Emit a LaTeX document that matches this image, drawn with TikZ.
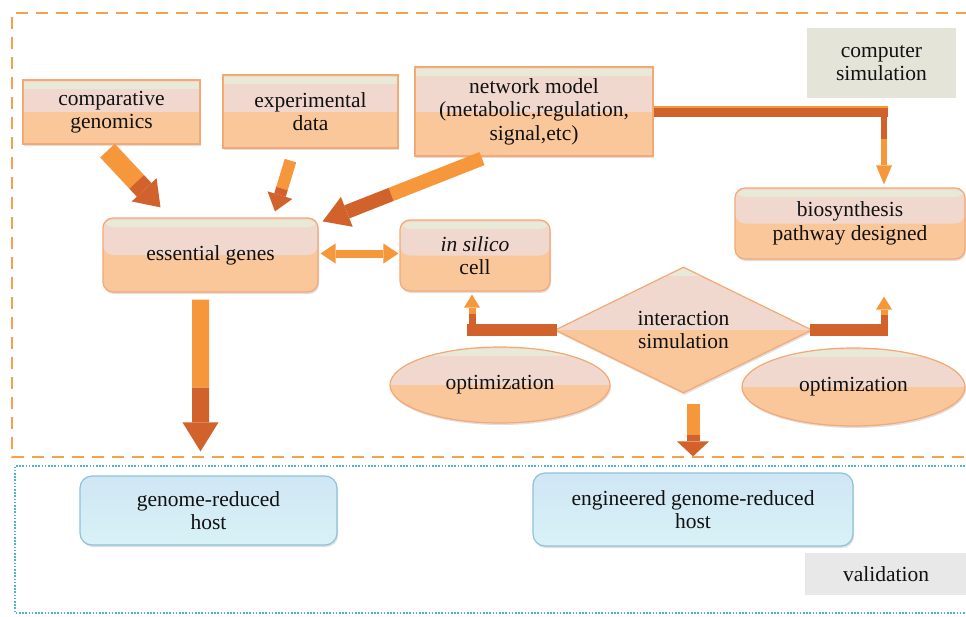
\documentclass[tikz,border=0pt]{standalone}
\usepackage{fontspec}
\setmainfont{Liberation Serif}
\usetikzlibrary{arrows.meta,shapes.geometric,calc,shadows}
\definecolor{boxtop}{HTML}{F0D8CF}
\definecolor{boxbot}{HTML}{FAC79A}
\definecolor{boxstrip}{HTML}{E9E9D8}
\definecolor{boxborder}{HTML}{F4A873}
\definecolor{arrO}{HTML}{F5973A}
\definecolor{arrD}{HTML}{D2622B}
\definecolor{bluetop}{HTML}{D0E6F5}
\definecolor{bluebot}{HTML}{D8F2F6}
\definecolor{blueborder}{HTML}{8FC2DA}
\definecolor{csgray}{HTML}{E4E4D9}
\definecolor{valgray}{HTML}{E8E8E8}
\definecolor{dashorange}{HTML}{F5A24E}
\definecolor{dotblue}{HTML}{4FB3D6}
\definecolor{txt}{HTML}{111111}
% #1 start, #2 tip, #3 shaft width, #4 head half width, #5 head length,
% #6 fraction where colour changes, #7 first colour, #8 second colour (head)
\newcommand\BlkArrow[8]{%
  \coordinate (hb) at ($(#2)!#5!(#1)$);
  \coordinate (md) at ($(#1)!#6!(#2)$);
  \draw[#7, line width=#3] (#1) -- (md);
  \draw[#8, line width=#3] (md) -- (hb);
  \fill[#8] ($(hb)!#4!90:(#2)$) -- (#2) -- ($(hb)!#4!-90:(#2)$) -- cycle;
}
\begin{document}
\begin{tikzpicture}[x=1pt,y=-1pt,
  lbl/.style={font=\fontsize{21.5}{23.5}\selectfont, align=center, text=txt, inner sep=0pt},
  ofill/.style={fill=boxbot, draw=boxborder, line width=1.2pt,
    drop shadow={opacity=0.25, shadow xshift=1pt, shadow yshift=-2pt},
    path picture={
      \fill[boxtop] (path picture bounding box.north west) rectangle (path picture bounding box.east);
      \fill[boxstrip] ([yshift=-2pt]path picture bounding box.north west) rectangle ([yshift=-9pt]path picture bounding box.north east);
    }},
  obox/.style={lbl, ofill, rectangle},
  robox/.style={lbl, ofill, rectangle, rounded corners=10pt},
  bbox/.style={lbl, rectangle, rounded corners=12pt, draw=blueborder, line width=1.2pt,
    top color=bluetop, bottom color=bluebot,
    drop shadow={opacity=0.25, shadow xshift=1pt, shadow yshift=-2pt}},
  gbox/.style={lbl, rectangle}
]
\useasboundingbox (0,0) rectangle (966,616);
\fill[white] (0,0) rectangle (966,616);

% frames
\draw[dashorange, line width=2.5pt, dash pattern=on 12pt off 8pt] (968,13) -- (12,13) -- (12,457) -- (968,457);
\draw[dotblue, line width=2pt, dash pattern=on 1.6pt off 1.6pt] (968,466) -- (15,466) -- (15,613) -- (968,613);

% nodes
\node[gbox, fill=csgray, minimum width=149pt, minimum height=70pt] (cs) at (881.5,63) {computer\\simulation};
\node[gbox, fill=valgray, minimum width=162pt, minimum height=42pt] (val) at (886,574) {validation};

\node[obox, minimum width=177pt, minimum height=64pt] (cg) at (111.5,112) {comparative\\genomics};
\node[obox, minimum width=175pt, minimum height=73pt] (ed) at (310.5,111.5) {experimental\\data};
\node[obox, minimum width=238pt, minimum height=89pt] (nm) at (534,111.5) {network model\\(metabolic,regulation,\\signal,etc)};

\node[robox, minimum width=215pt, minimum height=74pt] (eg) at (210.5,255) {essential genes};
\node[robox, minimum width=150pt, minimum height=71pt] (isc) at (475,255.5) {\textit{in silico}\\cell};
\node[robox, minimum width=230pt, minimum height=71pt] (bio) at (850,223.5) {biosynthesis\\pathway designed};

\node[lbl, ofill, diamond, aspect=2, minimum width=257pt, minimum height=126pt] (dia) at (683.5,330) {interaction\\simulation};
\node[lbl, ofill, ellipse, minimum width=220pt, minimum height=76pt] (opt1) at (500,385) {optimization};
\node[lbl, ofill, ellipse, minimum width=223pt, minimum height=78pt] (opt2) at (853.5,387) {optimization};

\node[bbox, minimum width=257pt, minimum height=69pt] (grh) at (208.5,510.5) {genome-reduced\\host};
\node[bbox, minimum width=320pt, minimum height=73pt] (egrh) at (693,509.5) {engineered genome-reduced\\host};

% comparative genomics -> essential genes
\coordinate (a1s) at ([xshift=-4pt,yshift=-6pt]cg.south);
\coordinate (a1t) at ([xshift=-50pt,yshift=10pt]eg.north);
\BlkArrow{a1s}{a1t}{20pt}{17pt}{24pt}{0.55}{arrO}{arrD}

% experimental data -> essential genes
\coordinate (a2s) at ([xshift=-20pt,yshift=-12pt]ed.south);
\coordinate (a2t) at ([xshift=64.5pt,yshift=6pt]eg.north);
\BlkArrow{a2s}{a2t}{12pt}{13pt}{17pt}{0.55}{arrO}{arrD}

% network model -> essential genes
\coordinate (a3s) at ([xshift=-52pt,yshift=-2pt]nm.south);
\coordinate (a3t) at ([xshift=4pt,yshift=-4pt]eg.north east);
\BlkArrow{a3s}{a3t}{14pt}{16pt}{26pt}{0.57}{arrO}{arrD}

% essential genes <-> in silico cell
\coordinate (dm) at ($(eg.east)!0.5!(isc.west)$);
\coordinate (dl) at ([xshift=2pt]eg.east);
\coordinate (dr) at ([xshift=-1pt,yshift=2pt]isc.west);
\coordinate (dm) at (dm |- dr);
\coordinate (dl) at (dl |- dr);
\BlkArrow{dm}{dl}{8pt}{10pt}{15pt}{0.5}{arrO}{arrO}
\BlkArrow{dm}{dr}{8pt}{10pt}{15pt}{0.5}{arrO}{arrO}

% network model -> biosynthesis pathway
\coordinate (bx) at ([xshift=34pt]bio.north);
\coordinate (bt) at ([yshift=3pt]bx);
\coordinate (bc) at (bx |- nm.east);
\BlkArrow{bc}{bt}{6pt}{8pt}{19pt}{0.38}{arrD}{arrO}
\draw[arrD, line width=10pt] (nm.east) -- ([xshift=4pt]bc);
\draw[arrO, line width=1.5pt] ([yshift=4.5pt]nm.east) -- ([xshift=4pt,yshift=4.5pt]bc);

% interaction simulation -> in silico cell
\coordinate (lt) at ([xshift=-3pt,yshift=-3pt]isc.south);
\coordinate (lc) at (lt |- dia.west);
\BlkArrow{lc}{lt}{7pt}{8pt}{13pt}{0.45}{arrD}{arrO}
\draw[arrD, line width=12pt] ([xshift=3pt]dia.west) -- ([xshift=-5pt]lc);

% interaction simulation -> biosynthesis pathway
\coordinate (rx) at ([xshift=34pt]bio.south);
\coordinate (rt) at ([yshift=-37pt]rx);
\coordinate (rc) at (rt |- dia.east);
\BlkArrow{rc}{rt}{7pt}{8pt}{13pt}{0.45}{arrD}{arrO}
\draw[arrD, line width=12pt] ([xshift=-3pt]dia.east) -- ([xshift=4pt]rc);

% essential genes -> genome-reduced host
\coordinate (gs) at ([xshift=-10pt,yshift=-7pt]eg.south);
\coordinate (gt) at ([xshift=-8pt,yshift=24pt]grh.north);
\coordinate (gs) at (gt |- gs);
\BlkArrow{gs}{gt}{17pt}{18pt}{29pt}{0.58}{arrO}{arrD}

% interaction simulation -> engineered genome-reduced host
\coordinate (es0) at (dia.south -| egrh.north);
\coordinate (es) at ([yshift=-10pt]es0);
\coordinate (et) at ([yshift=16pt]egrh.north);
\BlkArrow{es}{et}{13pt}{16pt}{15pt}{0.6}{arrO}{arrD}
\end{tikzpicture}
\end{document}
